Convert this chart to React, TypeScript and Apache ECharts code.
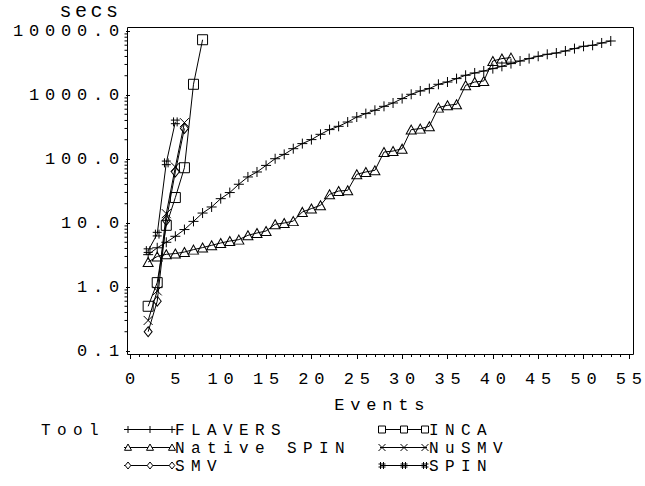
import React, { useEffect, useRef } from 'react';
import * as echarts from 'echarts';

const FONT = '"Liberation Mono", "DejaVu Sans Mono", monospace';
const SPACING = 5.8; // letter spacing of the monospace labels
const LEGEND_SPACING = 6.4;
const SECS_SPACING = 3.5;

// Run times (seconds) by number of events; each list starts at its first event.
const flaversFirstEvent = 2;
const flaversSecs = [
  3.2, 4.1, 5.0, 6.2, 7.9, 10.6, 14.3, 17.8, 24.0, 29.9, 40.3, 52.4, 62.7, 79.4,
  101, 118, 145, 174, 201, 243, 288, 324, 378, 453, 512, 577, 665, 750, 879,
  1026, 1156, 1259, 1469, 1596, 1803, 2032, 2208, 2371, 2582, 2805, 3097, 3396,
  3707, 4027, 4325, 4529, 4875, 5309, 5768, 5984, 6501, 6982,
];

const nativeSpinFirstEvent = 2;
const nativeSpinSecs = [
  2.46, 3.0, 3.24, 3.33, 3.52, 3.84, 4.13, 4.48, 4.87, 5.23, 5.5, 6.42, 6.98, 7.5,
  9.55, 10.0, 10.7, 14.9, 16.8, 18.9, 28.1, 31.6, 32.4, 57.7, 62.7, 66.5, 128.5,
  133, 145, 288, 298, 324, 635, 690, 716, 1418, 1596, 1656, 3398, 3707, 3840,
];

const incaFirstEvent = 2;
const incaSecs = [0.5, 1.17, 9.2, 25, 73, 1470, 7300];

const nusmvFirstEvent = 2;
const nusmvSecs = [0.3, 0.87, 14, 75, 370];

const smvFirstEvent = 2;
const smvSecs = [0.2, 0.6, 11, 63, 300];

const spinFirstEvent = 2;
const spinSecs = [3.7, 6.7, 87, 380];

const xTickMax = 55;
const xTickStep = 5;
const yMin = 0.1;
const yMax = 10000;

type Glyph = 'plus' | 'square' | 'triangle' | 'cross' | 'diamond' | 'hash';

const symbolPaths: Record<Glyph, string> = {
  plus: 'path://M0,5L10,5M5,0L5,10',
  square: 'path://M0,0L10,0L10,10L0,10Z',
  triangle: 'path://M5,0L10,9L0,9Z',
  cross: 'path://M0,0L10,10M10,0L0,10',
  diamond: 'path://M4,0L8,5L4,10L0,5Z',
  hash: 'path://M3,0L3,10M7,0L7,10M0,3L10,3M0,7L10,7',
};

const symbolSizes: Record<Glyph, number[]> = {
  plus: [10, 10],
  square: [10, 10],
  triangle: [10, 9],
  cross: [9, 9],
  diamond: [8, 10],
  hash: [9, 9],
};

const tools = [
  { name: 'FLAVERS', glyph: 'plus' as Glyph, first: flaversFirstEvent, secs: flaversSecs, col: 0, row: 0 },
  { name: 'INCA', glyph: 'square' as Glyph, first: incaFirstEvent, secs: incaSecs, col: 1, row: 0 },
  { name: 'Native SPIN', glyph: 'triangle' as Glyph, first: nativeSpinFirstEvent, secs: nativeSpinSecs, col: 0, row: 1 },
  { name: 'NuSMV', glyph: 'cross' as Glyph, first: nusmvFirstEvent, secs: nusmvSecs, col: 1, row: 1 },
  { name: 'SMV', glyph: 'diamond' as Glyph, first: smvFirstEvent, secs: smvSecs, col: 0, row: 2 },
  { name: 'SPIN', glyph: 'hash' as Glyph, first: spinFirstEvent, secs: spinSecs, col: 1, row: 2 },
];

// log-axis minor ticks at 2..9 of every decade
const yMinorTicks: number[] = [];
for (let d = yMin; d < yMax; d *= 10) {
  for (let m = 2; m <= 9; m++) yMinorTicks.push(Number((d * m).toPrecision(3)));
}

const STROKE = { stroke: '#000', lineWidth: 1, fill: 'none' };

function legendGlyph(kind: Glyph, cx: number, cy: number, s: number): any[] {
  const h = s / 2;
  const line = (x1: number, y1: number, x2: number, y2: number) => ({
    type: 'line', silent: true, shape: { x1, y1, x2, y2 }, style: STROKE,
  });
  switch (kind) {
    case 'plus':
      return [line(cx - h, cy, cx + h, cy), line(cx, cy - h, cx, cy + h)];
    case 'cross':
      return [line(cx - h, cy - h, cx + h, cy + h), line(cx + h, cy - h, cx - h, cy + h)];
    case 'hash':
      return [
        line(cx - 1.5, cy - h, cx - 1.5, cy + h),
        line(cx + 1.5, cy - h, cx + 1.5, cy + h),
        line(cx - h, cy - 1.5, cx + h, cy - 1.5),
        line(cx - h, cy + 1.5, cx + h, cy + 1.5),
      ];
    case 'square':
      return [{ type: 'rect', silent: true, shape: { x: cx - h, y: cy - h, width: s, height: s }, style: { ...STROKE, fill: '#fff' } }];
    case 'triangle':
      return [{ type: 'polygon', silent: true, shape: { points: [[cx, cy - h], [cx + h, cy + h * 0.8], [cx - h, cy + h * 0.8]] }, style: { ...STROKE, fill: '#fff' } }];
    case 'diamond':
      return [{ type: 'polygon', silent: true, shape: { points: [[cx, cy - h], [cx + h * 0.8, cy], [cx, cy + h], [cx - h * 0.8, cy]] }, style: { ...STROKE, fill: '#fff' } }];
  }
  return [];
}

const css = `
.chart-host text { letter-spacing: ${SPACING}px; }
.chart-host text[style*="16px"] { letter-spacing: ${LEGEND_SPACING}px; }
.chart-host text[style*="20px"] { letter-spacing: ${SECS_SPACING}px; }
`;

export default function App() {
  const ref = useRef<HTMLDivElement>(null);

  useEffect(() => {
    if (!ref.current) return;
    const chart = echarts.init(ref.current, undefined, { renderer: 'svg' });

    const labelFont = { fontFamily: FONT, fontSize: 17, color: '#000' };

    const legendCols = [
      { lineFrom: 124, lineTo: 174, marks: [128, 150, 172], textX: 175 },
      { lineFrom: 380, lineTo: 427, marks: [382, 404, 425], textX: 429 },
    ];
    const legendRows = [431, 449, 467];

    const legendText = (text: string, x: number, y: number) => ({
      type: 'text', silent: true, x, y,
      style: {
        text, font: `16px ${FONT}`, fill: '#000', align: 'left', verticalAlign: 'middle', lineHeight: 15,
      },
    });

    const legendElems: any[] = [legendText('Tool', 41, legendRows[0])];
    tools.forEach((t) => {
      const col = legendCols[t.col];
      const cy = legendRows[t.row];
      const ly = cy - 1.5;
      legendElems.push({
        type: 'line', silent: true,
        shape: { x1: col.lineFrom, y1: ly, x2: col.lineTo, y2: ly },
        style: STROKE,
      });
      col.marks.forEach((mx) => legendElems.push(...legendGlyph(t.glyph, mx, ly, 7)));
      legendElems.push(legendText(t.name, col.textX, cy));
    });

    const option: any = {
      animation: false,
      backgroundColor: '#fff',
      textStyle: { fontFamily: FONT },
      grid: { left: 130, right: 15, top: 31, bottom: 135, containLabel: false },
      xAxis: {
        type: 'value',
        min: 0,
        max: xTickMax,
        interval: xTickStep,
        offset: 3,
        axisLine: { show: false },
        axisTick: { show: true, length: 5, lineStyle: { color: '#000', width: 1 } },
        minorTick: { show: true, splitNumber: 5, length: 3, lineStyle: { color: '#000', width: 1 } },
        splitLine: { show: false },
        minorSplitLine: { show: false },
        axisLabel: { ...labelFont, margin: 25, verticalAlign: 'middle', padding: [0, 0, 0, SPACING] },
        name: 'Events',
        nameLocation: 'middle',
        nameGap: 51,
        nameTextStyle: { ...labelFont, verticalAlign: 'middle', padding: [0, 0, 0, SPACING] },
      },
      yAxis: {
        type: 'log',
        logBase: 10,
        min: yMin,
        max: yMax,
        offset: 3,
        axisLine: { show: false },
        axisTick: { show: true, length: 4, lineStyle: { color: '#000', width: 1 } },
        minorTick: { show: false },
        splitLine: { show: false },
        axisLabel: {
          ...labelFont,
          margin: 2,
          formatter: (v: number) => v.toFixed(1),
        },
      },
      graphic: {
        elements: [
          {
            type: 'rect', silent: true, z: 10,
            shape: { x: 127.5, y: 27.5, width: 506, height: 327 },
            style: { fill: 'none', stroke: '#000', lineWidth: 1 },
          },
          {
            type: 'text', silent: true, x: 118 + SECS_SPACING, y: 11,
            style: { text: 'secs', font: `20px ${FONT}`, fill: '#000', align: 'right', verticalAlign: 'middle', lineHeight: 18 },
          },
          ...legendElems,
        ],
      },
      series: [
        ...tools.map((t) => ({
          type: 'line',
          name: t.name,
          data: t.secs.map((s, i) => [t.first + i, s]),
          symbol: symbolPaths[t.glyph],
          symbolSize: symbolSizes[t.glyph],
          showSymbol: true,
          lineStyle: { color: '#000', width: 1 },
          itemStyle: { color: 'none', borderColor: '#000', borderWidth: 1 },
          emphasis: { disabled: true },
          silent: true,
          clip: false,
        })),
        {
          type: 'custom',
          name: 'minor ticks',
          coordinateSystem: 'cartesian2d',
          silent: true,
          data: yMinorTicks.map((v) => [0, v]),
          renderItem: (_params: any, api: any) => {
            const p = api.coord([api.value(0), api.value(1)]);
            return {
              type: 'line',
              shape: { x1: p[0] - 5.5, y1: p[1], x2: p[0] - 3, y2: p[1] },
              style: { stroke: '#000', lineWidth: 1 },
            };
          },
        },
      ],
    };

    chart.setOption(option);
    return () => chart.dispose();
  }, []);

  return (
    <>
      <style>{css}</style>
      <div
        ref={ref}
        className="chart-host"
        style={{ position: 'fixed', left: 0, top: 0, width: 645, height: 486, background: '#fff' }}
      />
    </>
  );
}
